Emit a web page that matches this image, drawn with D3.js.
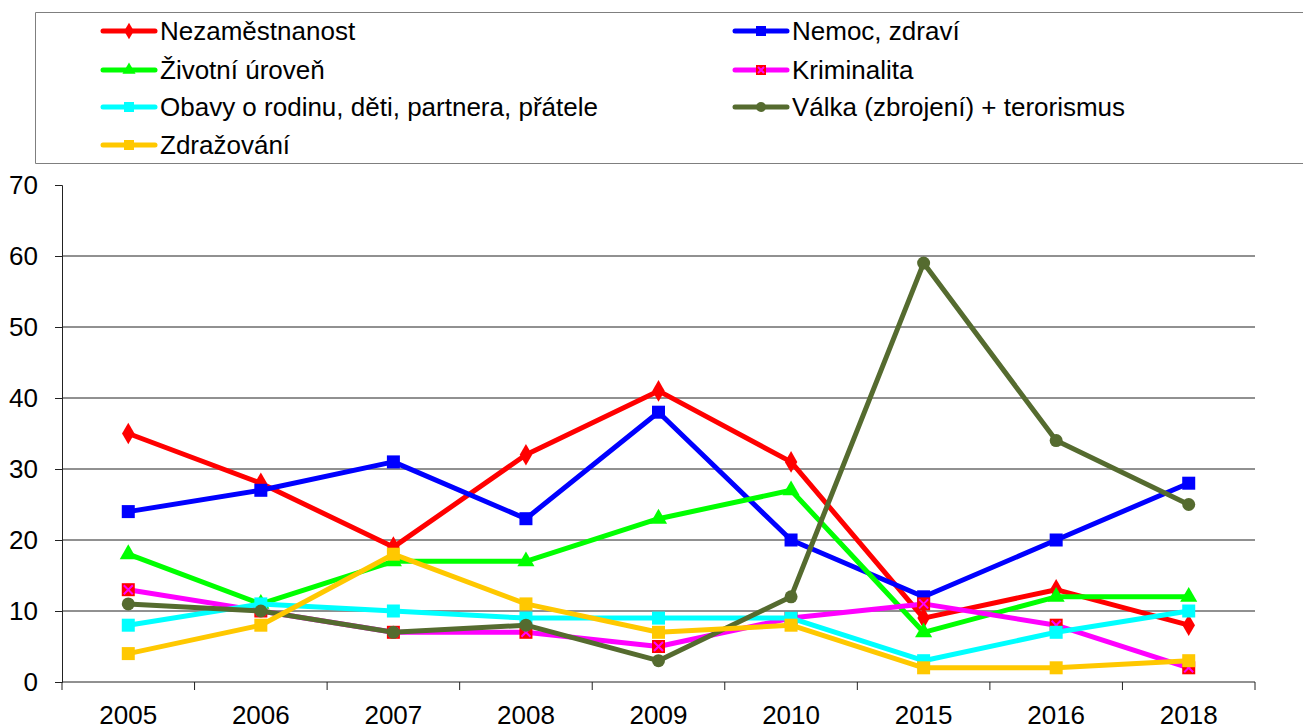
<!DOCTYPE html>
<html>
<head>
<meta charset="utf-8">
<script src="https://cdn.jsdelivr.net/npm/d3@7"></script>
<style>
  body { margin: 0; background: #fff; }
  svg { display: block; font-family: "Liberation Sans", Arial, sans-serif; }
</style>
</head>
<body>
<svg id="chart" width="1303" height="726"></svg>
<script>
// Categories and series
const years = ['2005', '2006', '2007', '2008', '2009', '2010', '2015', '2016', '2018'];
const yTicks = [0, 10, 20, 30, 40, 50, 60, 70];

const nezamestnanost = [35, 28, 19, 32, 41, 31, 9, 13, 8];
const nemoc = [24, 27, 31, 23, 38, 20, 12, 20, 28];
const zivotniUroven = [18, 11, 17, 17, 23, 27, 7, 12, 12];
const kriminalita = [13, 10, 7, 7, 5, 9, 11, 8, 2];
const obavy = [8, 11, 10, 9, 9, 9, 3, 7, 10];
const valka = [11, 10, 7, 8, 3, 12, 59, 34, 25];
const zdrazovani = [4, 8, 18, 11, 7, 8, 2, 2, 3];

const series = [
    { name: 'Nezaměstnanost', values: nezamestnanost, color: '#FF0000', marker: 'diamond' },
    { name: 'Nemoc, zdraví', values: nemoc, color: '#0000FF', marker: 'square' },
    { name: 'Životní úroveň', values: zivotniUroven, color: '#00FF00', marker: 'triangle' },
    { name: 'Kriminalita', values: kriminalita, color: '#FF00FF', marker: 'xsquare' },
    { name: 'Obavy o rodinu, děti, partnera, přátele', values: obavy, color: '#00FFFF', marker: 'square' },
    { name: 'Válka (zbrojení) + terorismus', values: valka, color: '#556B2F', marker: 'circle' },
    { name: 'Zdražování', values: zdrazovani, color: '#FFC800', marker: 'square' }
];

const svg = d3.select('#chart');
const plot = { left: 62, right: 1255, top: 185, bottom: 682 };
const fontSize = '26px';

const x = d3.scaleBand()
    .domain(years)
    .range([plot.left, plot.right]);

const y = d3.scaleLinear()
    .domain([0, 70])
    .range([plot.bottom, plot.top]);

// Gridlines
svg.append('g')
    .selectAll('line')
    .data(yTicks.filter(d => d > 0 && d < 70))
    .join('line')
    .attr('x1', plot.left)
    .attr('x2', plot.right)
    .attr('y1', d => y(d))
    .attr('y2', d => y(d))
    .style('stroke', '#222')
    .style('stroke-width', 1);

// Y axis
const yAxis = svg.append('g')
    .attr('transform', `translate(${plot.left},0)`)
    .call(d3.axisLeft(y).tickValues(yTicks).tickSize(7).tickPadding(17));
yAxis.select('.domain').style('stroke', '#222');
yAxis.selectAll('.tick line').style('stroke', '#222');
yAxis.selectAll('text')
    .style('font-size', fontSize)
    .style('fill', '#000');

// X axis with ticks between categories
const xAxisG = svg.append('g')
    .attr('transform', `translate(0,${plot.bottom})`);
xAxisG.append('line')
    .attr('x1', plot.left)
    .attr('x2', plot.right)
    .style('stroke', '#222');
const bounds = d3.range(years.length + 1).map(i => plot.left + i * x.step());
xAxisG.selectAll('.xtick')
    .data(bounds)
    .join('line')
    .attr('class', 'xtick')
    .attr('x1', d => d)
    .attr('x2', d => d)
    .attr('y1', 0)
    .attr('y2', 8)
    .style('stroke', '#222');
xAxisG.selectAll('.xlabel')
    .data(years)
    .join('text')
    .attr('class', 'xlabel')
    .attr('x', d => x(d) + x.bandwidth() / 2)
    .attr('y', 42)
    .style('text-anchor', 'middle')
    .style('font-size', fontSize)
    .style('fill', '#000')
    .text(d => d);

// Marker drawing
function drawMarker(g, type, color, size) {
    const s = size;
    if (type === 'square') {
        g.append('rect')
            .attr('x', -s / 2).attr('y', -s / 2)
            .attr('width', s).attr('height', s)
            .style('fill', color);
    } else if (type === 'xsquare') {
        g.append('rect')
            .attr('x', -s / 2).attr('y', -s / 2)
            .attr('width', s).attr('height', s)
            .style('fill', '#FF0000');
        const h = s / 2 - 2;
        g.append('path')
            .attr('d', `M${-h},${-h}L${h},${h}M${-h},${h}L${h},${-h}`)
            .style('stroke', '#FF00FF')
            .style('stroke-width', 2);
    } else if (type === 'diamond') {
        g.append('path')
            .attr('d', d3.symbol(d3.symbolDiamond, s * s * 0.8)())
            .style('fill', color);
    } else if (type === 'triangle') {
        g.append('path')
            .attr('d', d3.symbol(d3.symbolTriangle, s * s * 0.75)())
            .style('fill', color);
    } else if (type === 'circle') {
        g.append('circle')
            .attr('r', s / 2)
            .style('fill', color);
    }
}

const line = d3.line()
    .x((d, i) => x(years[i]) + x.bandwidth() / 2)
    .y(d => y(d));

series.forEach(s => {
    const g = svg.append('g');
    g.append('path')
        .datum(s.values)
        .attr('d', line)
        .style('fill', 'none')
        .style('stroke', s.color)
        .style('stroke-width', 5)
        .style('stroke-linejoin', 'round');
    s.values.forEach((v, i) => {
        const m = g.append('g')
            .attr('transform', `translate(${x(years[i]) + x.bandwidth() / 2},${y(v)})`);
        drawMarker(m, s.marker, s.color, 13);
    });
});

// Legend
const legend = svg.append('g');
legend.append('path')
    .attr('d', 'M1303,12.5H35.5V163.5H1303')
    .style('fill', 'none')
    .style('stroke', '#7f7f7f')
    .style('stroke-width', 1);

const legendCols = [103, 735];
const legendRows = [31, 70, 107, 145];
series.forEach((s, i) => {
    const col = i % 2;
    const row = Math.floor(i / 2);
    const lx = legendCols[col];
    const ly = legendRows[row];
    const g = legend.append('g');
    g.append('line')
        .attr('x1', lx).attr('x2', lx + 52)
        .attr('y1', ly).attr('y2', ly)
        .style('stroke', s.color)
        .style('stroke-width', 5)
        .style('stroke-linecap', 'round');
    const m = g.append('g').attr('transform', `translate(${lx + 26},${ly})`);
    drawMarker(m, s.marker, s.color, 10);
    g.append('text')
        .attr('x', lx + 57)
        .attr('y', ly)
        .attr('dy', '0.36em')
        .style('font-size', fontSize)
        .style('fill', '#000')
        .text(s.name);
});
</script>
</body>
</html>
